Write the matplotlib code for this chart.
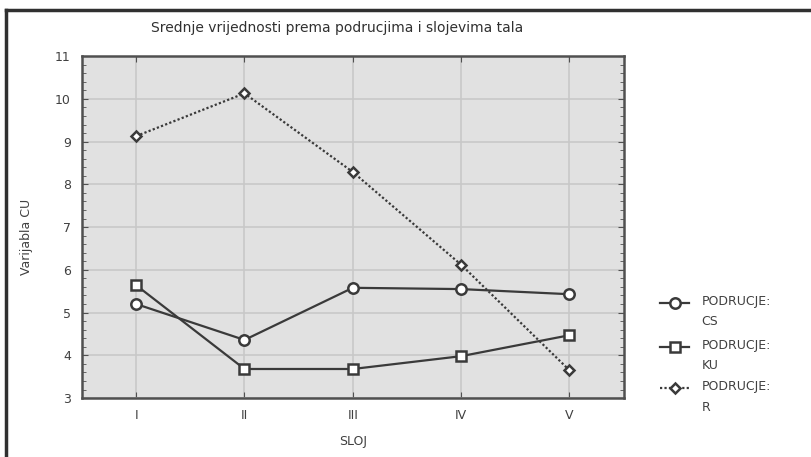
import numpy as np
import matplotlib
matplotlib.use('Agg')
import matplotlib.pyplot as plt
from matplotlib.ticker import MultipleLocator
from matplotlib.lines import Line2D

plt.rcParams['font.family'] = ['DejaVu Sans']

sloj = ['I', 'II', 'III', 'IV', 'V']
cs = [5.2, 4.36, 5.58, 5.55, 5.43]
ku = [5.64, 3.68, 3.68, 3.98, 4.47]
r = [9.13, 10.13, 8.29, 6.12, 3.65]

title = 'Srednje vrijednosti prema podrucjima i slojevima tala'
labels = ['PODRUCJE:\nCS', 'PODRUCJE:\nKU', 'PODRUCJE:\nR']

fig = plt.figure(figsize=(8.12, 4.57), dpi=100)
ax = fig.add_axes([0.101, 0.129, 0.667, 0.748])

x = np.arange(1, len(sloj) + 1)
lc = '#3a3a3a'
styles = [
    dict(ls='-', marker='o', ms=7.5),
    dict(ls='-', marker='s', ms=7.5),
    dict(ls=(0, (1, 1)), marker='D', ms=5.5),
]
for vals, st in zip([cs, ku, r], styles):
    ax.plot(x, vals, color=lc, lw=1.6, mfc='white', mec=lc, mew=1.8, zorder=3, **st)

ax.set_xlim(0.5, 5.5)
ax.set_ylim(3, 11)
ax.set_xticks(x)
ax.set_xticklabels(sloj)
ax.yaxis.set_major_locator(MultipleLocator(1))
ax.yaxis.set_minor_locator(MultipleLocator(0.2))
ax.set_facecolor('#e1e1e1')
ax.grid(True, color='#c8c8c8', lw=1.2)
ax.set_axisbelow(True)
for s in ax.spines.values():
    s.set_color('#505050')
    s.set_linewidth(1.8)
ax.tick_params(which='both', direction='in', top=True, right=True, colors='#505050',
               labelcolor='#404040', labelsize=9)
ax.tick_params(which='minor', length=3)
ax.tick_params(which='major', length=4)
ax.tick_params(axis='y', pad=8)
ax.tick_params(axis='x', pad=8)

fig.text(0.415, 0.939, title, fontsize=10, color='#303030', ha='center', va='center')
ax.set_xlabel('SLOJ', fontsize=9, color='#404040', labelpad=9)
ax.set_ylabel('Varijabla CU', fontsize=9, color='#404040')
ax.yaxis.set_label_coords(-0.09, 0.47)

# legend drawn by hand: marker on the first text line
ly = [0.337, 0.241, 0.150]
for yy, lab, st in zip(ly, labels, styles):
    fig.add_artist(Line2D([0.813, 0.831, 0.849], [yy, yy, yy], color=lc, lw=1.6, mfc='white',
                          mec=lc, mew=1.8, markevery=[1], transform=fig.transFigure, **st))
    fig.text(0.864, yy + 0.018, lab, fontsize=9, color='#404040', va='top', ha='left',
             linespacing=1.75)

# figure frame (top and left edges)
fig.add_artist(Line2D([0.007, 1.0], [0.978, 0.978], color='#303030', lw=2.5, transform=fig.transFigure))
fig.add_artist(Line2D([0.007, 0.007], [0.0, 0.978], color='#303030', lw=2.5, transform=fig.transFigure))

fig.savefig('out.png', dpi=100)
plt.close()
